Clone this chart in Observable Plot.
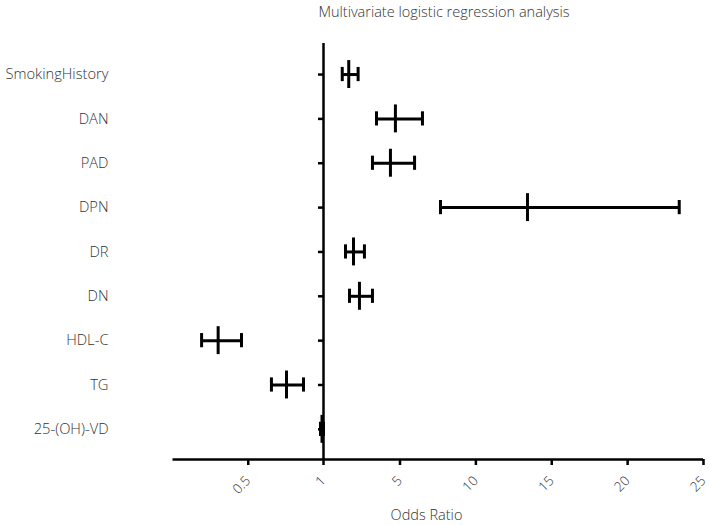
<!DOCTYPE html>
<html>
<head>
<meta charset="utf-8">
<script src="https://cdn.jsdelivr.net/npm/d3@7"></script>
<script src="https://cdn.jsdelivr.net/npm/@observablehq/plot@0.6"></script>
<style>
  body { margin: 0; background: #fff; font-family: "Open Sans", sans-serif; }
  #title { width: 709px; height: 24px; line-height: 24px; box-sizing: border-box; padding-left: 179px;
           text-align: center; font-size: 14.5px; font-weight: 300; color: #333; }
</style>
</head>
<body>
<div id="title">Multivariate logistic regression analysis</div>
<div id="chart"></div>
<script>
const variables = ["SmokingHistory", "DAN", "PAD", "DPN", "DR", "DN", "HDL-C", "TG", "25-(OH)-VD"];
const oddsRatio = [2.32, 4.76, 4.50, 13.4, 2.57, 2.88, 0.30, 0.754, 0.99];
const ciLower   = [1.98, 3.77, 3.56, 7.67, 2.15, 2.36, 0.19, 0.654, 0.98];
const ciUpper   = [2.81, 6.48, 5.96, 23.4, 3.14, 3.56, 0.455, 0.867, 1.00];
const xTicks = [0.5, 1, 5, 10, 15, 20, 25];
const xDomain = [0, 1, 5, 25];          // segmented axis breakpoints
const xRange = [172.5, 323, 399.5, 703];
const yDomain = [8.68, -0.7];

const data = variables.map((name, i) => ({i, name, or: oddsRatio[i], lo: ciLower[i], hi: ciUpper[i]}));
const ink = "#000";
const textInk = "#333";

const chart = Plot.plot({
  width: 709,
  height: 501,
  marginTop: 19,
  marginBottom: 66,
  marginLeft: 323,
  marginRight: 6,
  style: {fontFamily: "Open Sans, sans-serif", fontWeight: 300, color: textInk, background: "#fff", overflow: "visible"},
  x: {type: "linear", domain: xDomain, range: xRange},
  y: {type: "linear", domain: yDomain},
  marks: [
    Plot.axisY({
      ticks: data.map(d => d.i),
      tickFormat: i => variables[i],
      tickSize: 5,
      tickPadding: 210,
      fontSize: 14.7,
      strokeWidth: 2.5,
      stroke: ink,
      label: null
    }),
    Plot.axisX({
      ticks: xTicks,
      tickFormat: d => String(d),
      tickSize: 6,
      tickPadding: 13,
      tickRotate: -45,
      fontSize: 13.5,
      strokeWidth: 2.5,
      stroke: ink,
      label: null
    }),
    Plot.ruleX([1], {stroke: ink, strokeWidth: 2.5}),
    Plot.ruleY([yDomain[0]], {x1: xDomain[0], x2: xDomain[xDomain.length - 1], stroke: ink, strokeWidth: 2.5}),
    Plot.ruleY(data, {y: "i", x1: "lo", x2: "hi", stroke: ink, strokeWidth: 3}),
    Plot.ruleX(data, {x: "lo", y1: d => d.i - 0.16, y2: d => d.i + 0.16, stroke: ink, strokeWidth: 3}),
    Plot.ruleX(data, {x: "hi", y1: d => d.i - 0.16, y2: d => d.i + 0.16, stroke: ink, strokeWidth: 3}),
    Plot.ruleX(data, {x: "or", y1: d => d.i - 0.315, y2: d => d.i + 0.315, stroke: ink, strokeWidth: 3}),
    Plot.text(["Odds Ratio"], {text: d => d, frameAnchor: "bottom", dx: -87, dy: 60, fontSize: 14.5, fill: textInk})
  ]
});
document.getElementById("chart").appendChild(chart);
</script>
</body>
</html>
